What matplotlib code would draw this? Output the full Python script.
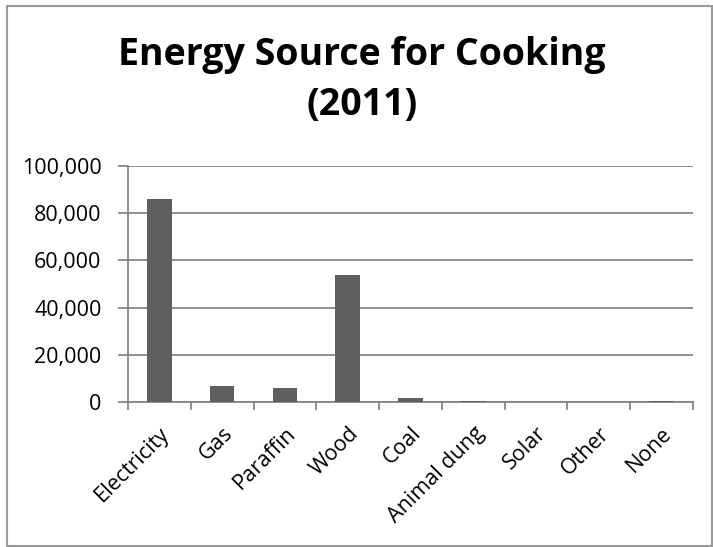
import matplotlib
matplotlib.use("Agg")
import matplotlib.pyplot as plt
from matplotlib.patches import Rectangle
from matplotlib.ticker import FuncFormatter, FixedLocator

categories = ["Electricity", "Gas", "Paraffin", "Wood", "Coal",
              "Animal dung", "Solar", "Other", "None"]
households = [86000, 6900, 6100, 53800, 1700, 500, 80, 80, 300]
y_ticks = [0, 20000, 40000, 60000, 80000, 100000]

plt.rcParams['font.family'] = ['Open Sans', 'DejaVu Sans']

fig = plt.figure(figsize=(7.13, 5.47), dpi=100)
ax = fig.add_axes([128 / 713, 1 - 402 / 547, 565 / 713, 236 / 547])

x = list(range(len(categories)))
ax.bar(x, households, width=0.39, color='#5f5f5f', zorder=3)

ax.set_xlim(-0.5, len(categories) - 0.5)
ax.set_ylim(0, 100000)
ax.yaxis.set_major_locator(FixedLocator(y_ticks))
ax.yaxis.set_major_formatter(FuncFormatter(lambda v, p: f"{int(v):,}"))
ax.grid(axis='y', color='#868686', linewidth=1.3, zorder=0)

ax.set_xticks(x)
ax.set_xticklabels(categories, rotation=45, ha='right', rotation_mode='anchor')
ax.set_xticks([i - 0.5 for i in range(len(categories) + 1)], minor=True)
ax.tick_params(axis='x', which='major', length=0, labelsize=15.5, pad=15)
ax.tick_params(axis='x', which='minor', length=6, width=1.3, color='#868686')
ax.tick_params(axis='y', length=7, width=1.3, color='#868686', labelsize=15.5, pad=12)

for s in ['top', 'right']:
    ax.spines[s].set_visible(False)
for s in ['left', 'bottom']:
    ax.spines[s].set_color('#868686')
    ax.spines[s].set_linewidth(1.3)

fig.text(362 / 713, 1 - 80 / 547, "Energy Source for Cooking\n(2011)",
         ha='center', va='center', fontsize=27, fontweight='bold',
         linespacing=1.4)

# outer chart border
fig.patches.append(Rectangle((7 / 713, 1 / 547), 705 / 713, 540 / 547,
                             transform=fig.transFigure, fill=False,
                             edgecolor='#9a9a9a', linewidth=1.5))

fig.savefig("out.png", dpi=100)
